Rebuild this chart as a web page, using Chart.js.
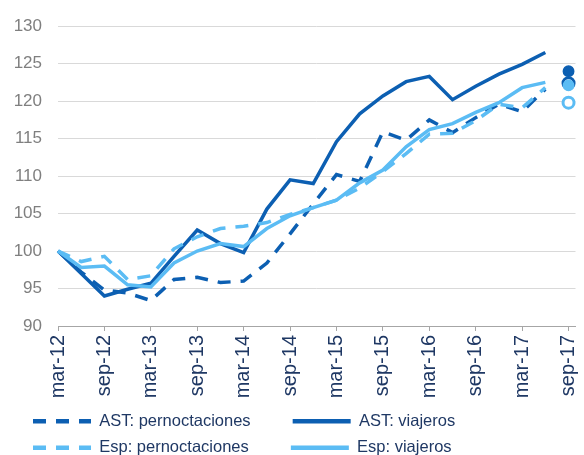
<!DOCTYPE html>
<html>
<head>
<meta charset="utf-8">
<script src="https://cdn.jsdelivr.net/npm/chart.js@4/dist/chart.umd.min.js"></script>
<style>
  html, body { margin: 0; padding: 0; background: #fff; }
  #wrap { width: 584px; height: 455px; }
</style>
</head>
<body>
<div id="wrap"><canvas id="chart"></canvas></div>
<script>
// quarterly data, mar-12 .. sep-17 (last value is the sep-17 marker only)
const tickLabels = ['mar-12', 'sep-12', 'mar-13', 'sep-13', 'mar-14', 'sep-14',
                    'mar-15', 'sep-15', 'mar-16', 'sep-16', 'mar-17', 'sep-17'];

const astPernoctaciones = [100, 97.2, 94.8, 94.4, 93.4, 96.2, 96.5, 95.8, 96.0, 98.4, 102.3, 106.3,
                           110.2, 109.3, 115.9, 114.8, 117.5, 115.8, 117.8, 119.6, 118.6, 121.6, 122.4];
const astViajeros = [100, 97.0, 94.0, 94.9, 95.7, 99.3, 102.8, 101.0, 99.8, 105.6, 109.5, 109.0,
                     114.6, 118.3, 120.7, 122.6, 123.3, 120.2, 122.0, 123.6, 124.9, 126.5, 124.0];
const espPernoctaciones = [100, 98.6, 99.3, 96.2, 96.7, 100.3, 101.9, 103.0, 103.3, 103.8, 104.9, 105.8,
                           106.8, 108.4, 110.6, 113.0, 115.6, 115.7, 117.4, 119.6, 119.1, 121.8, 119.8];
const espViajeros = [100, 97.8, 98.0, 95.5, 95.2, 98.4, 100.0, 101.0, 100.6, 103.0, 104.7, 105.8,
                     106.8, 109.1, 110.8, 113.9, 116.2, 117.0, 118.5, 119.8, 121.8, 122.5, 122.1];

const dark = '#0c5fb2';
const light = '#5bbcf4';
const navy = '#1f3864';
const lastIdx = astViajeros.length - 1;

Chart.defaults.font.family = 'Arial, "Liberation Sans", sans-serif';

function series(label, values, color, dashed, order) {
  return {
    label: label,
    data: values.map((v, i) => ({ x: i, y: v })),
    borderColor: color,
    backgroundColor: color,
    borderWidth: 3.5,
    borderDash: dashed ? [13, 10] : [],
    pointRadius: values.map((v, i) => i === lastIdx ? (dashed ? 5.5 : 5.2) : 0),
    pointBorderWidth: dashed ? 3 : 1.5,
    pointBackgroundColor: dashed ? '#fff' : color,
    pointBorderColor: color,
    segment: { borderColor: ctx => ctx.p1DataIndex === lastIdx ? 'transparent' : undefined },
    fill: false,
    tension: 0,
    clip: false,
    order: order
  };
}

// move the legend block right so it starts under the y labels
const legendShift = {
  id: 'legendShift',
  afterLayout(chart) {
    chart.legend.left += 23;
  }
};

new Chart(document.getElementById('chart'), {
  type: 'line',
  data: {
    datasets: [
      series('AST: pernoctaciones', astPernoctaciones, dark, true, 4),
      series('AST: viajeros', astViajeros, dark, false, 3),
      series('Esp: pernoctaciones', espPernoctaciones, light, true, 2),
      series('Esp: viajeros', espViajeros, light, false, 1)
    ]
  },
  plugins: [legendShift],
  options: {
    responsive: true,
    maintainAspectRatio: false,
    animation: false,
    layout: { padding: { left: 0, right: 6, top: 22, bottom: -11 } },
    plugins: {
      tooltip: { enabled: false },
      legend: {
        position: 'bottom',
        align: 'start',
        labels: {
          usePointStyle: true,
          pointStyle: 'line',
          pointStyleWidth: 58,
          boxWidth: 58,
          padding: 10,
          color: navy,
          font: { size: 16.5 },
          sort: (a, b) => a.datasetIndex - b.datasetIndex,
          generateLabels: chart => Chart.defaults.plugins.legend.labels.generateLabels(chart).map(item => ({
            ...item,
            text: item.text.includes('pernoctaciones') ? item.text + '       ' : item.text,
            lineWidth: 4.5,
            lineDash: chart.data.datasets[item.datasetIndex].borderDash,
            fillStyle: item.strokeStyle
          }))
        }
      }
    },
    scales: {
      x: {
        type: 'linear',
        min: 0,
        max: 22.3,
        afterFit: s => { s.height = 77; s.paddingLeft = 0; s.paddingRight = 0; },
        border: { color: '#a6a6a6', width: 1 },
        grid: { drawOnChartArea: false, drawTicks: true, tickLength: 5, tickColor: '#a6a6a6' },
        ticks: {
          stepSize: 2,
          includeBounds: false,
          autoSkip: false,
          minRotation: 90,
          maxRotation: 90,
          padding: 4,
          color: navy,
          font: { size: 20 },
          callback: v => tickLabels[v / 2]
        }
      },
      y: {
        min: 90,
        max: 130,
        afterFit: s => { s.width = 58; },
        border: { display: false },
        grid: { color: '#d9d9d9', lineWidth: 1, drawTicks: false },
        ticks: { stepSize: 5, padding: 16, color: '#7f7f7f', font: { size: 17 } }
      }
    }
  }
});
</script>
</body>
</html>
